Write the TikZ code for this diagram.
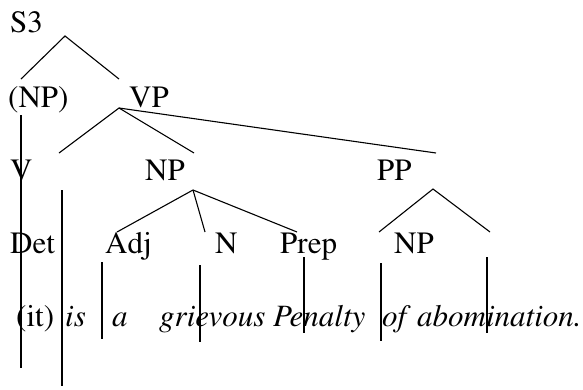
\documentclass[tikz,border=0pt]{standalone}
\usepackage[T1]{fontenc}
\usepackage{times}
\begin{document}
\begin{tikzpicture}[x=1bp, y=-1bp,
  lab/.style={anchor=base west, inner sep=0pt, font=\rmfamily\fontsize{31bp}{36bp}\selectfont},
  word/.style={lab, font=\rmfamily\fontsize{31bp}{36bp}\selectfont\itshape},
  branch/.style={line width=1.1bp}]
\useasboundingbox (0,0) rectangle (583,389);

% category labels
\node[lab] (s3)   at (10,32)  {S3};
\node[lab] (np0)  at (8,107)  {(NP)};
\node[lab] (vp)   at (129,107) {VP};
\node[lab] (v)    at (10,180) {V};
\node[lab] (np1)  at (145,180) {NP};
\node[lab] (pp)   at (377,180) {PP};
\node[lab] (det)  at (10,253) {Det};
\node[lab] (adj)  at (105,253) {Adj};
\node[lab] (n)    at (215,253) {N};
\node[lab] (prep) at (280,253) {Prep};
\node[lab] (np2)  at (394,253) {NP};

% the sentence
\node[lab]  (w0) at (16,326)  {(it)};
\node[word] (w1) at (65,326)  {is};
\node[word] (w2) at (112,326) {a};
\node[word] (w3) at (159,326) {grievous};
\node[word] (w4) at (273,326) {Penalty};
\node[word] (w5) at (382,326) {of};
\node[word] (w6) at (417,326) {abomination.};

% branching points and line ends
\coordinate (sA) at (65,36);
\coordinate (sL) at (21,79);
\coordinate (sR) at (119,79);
\coordinate (vpA) at (119,108);
\coordinate (vpL) at (59,153);
\coordinate (vpM) at (194,153);
\coordinate (vpR) at (436,153);
\coordinate (npA) at (193,190);
\coordinate (npL) at (117,232);
\coordinate (npM) at (205,232);
\coordinate (npR) at (297,232);
\coordinate (ppA) at (433,189);
\coordinate (ppL) at (379,232);
\coordinate (ppR) at (490,232);

\draw[branch] (sL) -- (sA) -- (sR);
\draw[branch] (vpL) -- (vpA) -- (vpM);
\draw[branch] (vpA) -- (vpR);
\draw[branch] (npL) -- (npA) -- (npR);
\draw[branch] (npA) -- (npM);
\draw[branch] (ppL) -- (ppA) -- (ppR);

% vertical strokes down to the words
\coordinate (t1) at (21,115);  \coordinate (b1) at (21,368);
\coordinate (t2) at (62,190);  \coordinate (b2) at (62,386);
\coordinate (t3) at (102,262); \coordinate (b3) at (102,339);
\coordinate (t4) at (200,265); \coordinate (b4) at (200,342);
\coordinate (t5) at (304,257); \coordinate (b5) at (304,333);
\coordinate (t6) at (381,263); \coordinate (b6) at (381,341);
\coordinate (t7) at (487,257); \coordinate (b7) at (487,333);
\foreach \i in {1,...,7} \draw[branch] (t\i) -- (b\i);
\end{tikzpicture}
\end{document}
